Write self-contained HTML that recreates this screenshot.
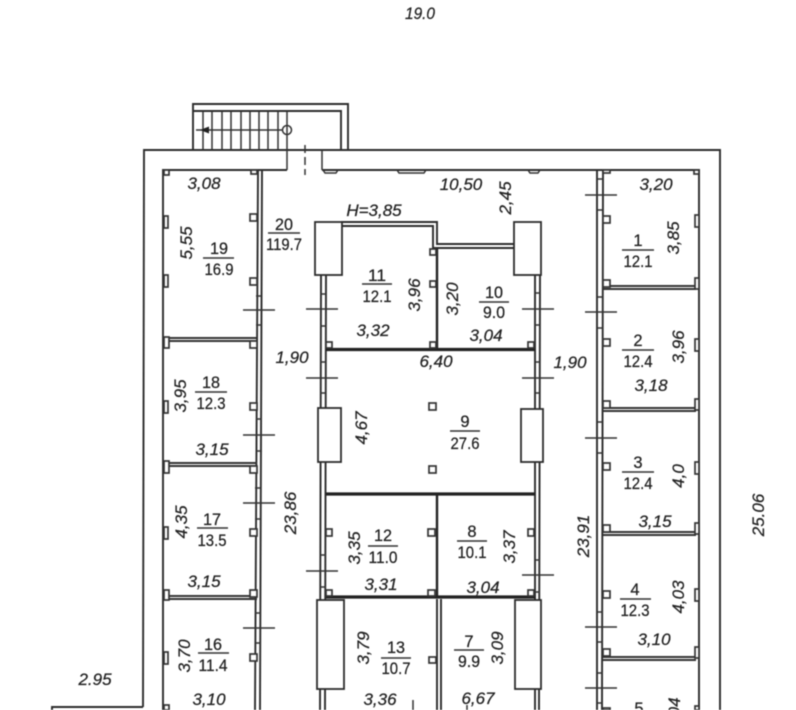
<!DOCTYPE html>
<html>
<head>
<meta charset="utf-8">
<style>
html,body{margin:0;padding:0;background:#fff;width:796px;height:710px;overflow:hidden}
svg{display:block;filter:blur(.4px)}
text{font-family:"Liberation Sans",sans-serif;fill:#222;text-anchor:middle;stroke:#222;stroke-width:.25}
.d{font-size:17px;font-style:italic}
.n{font-size:16.5px}
.l{stroke:#2c2c2c;stroke-width:1.9;fill:none}
.t{stroke:#222;stroke-width:3.2;fill:none}
.b{stroke:#333;stroke-width:2;fill:none}
.m{stroke:#333;stroke-width:1.5;fill:none}
.s{stroke:#333;stroke-width:1.7;fill:#fff}
.w{stroke:#2c2c2c;stroke-width:1.8;fill:#fff}
</style>
</head>
<body>
<svg width="796" height="710" viewBox="0 0 796 710" xmlns="http://www.w3.org/2000/svg">
<!-- outer walls -->
<path class="l" d="M143 707L144 150H720V710"/>
<path class="l" d="M52 710V707H143"/>
<path class="l" d="M163 710V170H287M322 170H699V710"/>
<path class="m" d="M287 150V170M322 150V170M323 170l2 3h11l2-3M397 170l2 3h25l2-3M528 170l2 3h8l2-3"/>
<path class="m" stroke-dasharray="8 4" d="M305 145V175"/>
<!-- stairs -->
<path class="l" d="M193 150V104H348V150M193 111H341V150"/>
<path class="m" d="M203 111V150M212 111V150M222 111V150M231 111V150M241 111V150M250 111V150M259 111V150M268 111V150M278 111V150M287 111V150"/>
<path class="m" d="M196 130H283"/>
<path d="M200 130l9-3.500v7z" fill="#222"/>
<circle cx="287" cy="130" r="4.500" class="m"/>
<!-- left column -->
<path class="l" d="M258 170L255 710M262 170L260 710"/>
<path class="b" d="M168 338H257M168 341H257M168 463H257M168 466H257M168 596H257M168 599H257"/>
<!-- right column -->
<path class="l" d="M597 170V710M603 170L602 710"/>
<path class="b" d="M603 286H696M603 289H696M603 408H696M603 411H696M603 532H696M603 535H696M603 657H696M603 660H696"/>
<!-- centre walls -->
<path class="l" d="M321 275L320 710M326 275L325 710M535 275V710M540 275L539 710M437 599V710M441 599V710"/>
<path class="l" d="M341 222H437V244H515M341 226H433V248H515"/>
<path class="t" d="M326 349.500H535M326 494H535M326 597H535"/>
<path class="t" style="stroke-width:2.400" d="M437 248V349M437 494V597"/>
<path class="m" d="M413 700V710M467 705V710"/>
<!-- door marks in walls -->
<path class="m" d="M256 296h6M256 325h6M256 419h6M256 451h6M255 488h6M255 519h6M255 613h6M255 643h6M320 294h6M320 326h6M320 362h6M320 393h6M320 555h6M320 587h6M535 293h5M535 325h5M535 362h5M535 393h5M535 560h5M535 592h5M597 179h6M597 210h6M597 297h6M597 328h6M597 422h6M597 453h6M597 612h6M597 642h6M597 673h6M597 703h6"/>
<!-- pillars -->
<rect class="w" x="315" y="222" width="27" height="53"/>
<rect class="w" x="514" y="222" width="27" height="53"/>
<rect class="w" x="318" y="408" width="23" height="54"/>
<rect class="w" x="521" y="409" width="22" height="53"/>
<rect class="w" x="317" y="600" width="27" height="89"/>
<rect class="w" x="515" y="600" width="26" height="89"/>
<!-- door ticks -->
<path class="m" d="M243 310H275M243 435H275M243 503H275M243 628H275M306 309H338M306 378H338M306 571H338M522 309H554M522 378H554M522 575H554M585 195H617M585 312H617M585 438H617M585 627H617M585 688H617"/>
<!-- small squares -->
<g class="s">
<rect x="164" y="170" width="5" height="5"/><rect x="251" y="170" width="6" height="4"/>
<rect x="164" y="216" width="4" height="12"/><rect x="250" y="214" width="7" height="7"/>
<rect x="164" y="275" width="4" height="12"/><rect x="250" y="278" width="7" height="7"/>
<rect x="164" y="337" width="5" height="11"/><rect x="250" y="341" width="7" height="7"/>
<rect x="164" y="401" width="4" height="12"/><rect x="250" y="403" width="7" height="7"/>
<rect x="164" y="461" width="5" height="12"/><rect x="250" y="466" width="7" height="7"/>
<rect x="164" y="527" width="4" height="12"/><rect x="250" y="529" width="7" height="7"/>
<rect x="164" y="590" width="5" height="10"/><rect x="250" y="590" width="7" height="7"/>
<rect x="164" y="652" width="4" height="12"/><rect x="250" y="654" width="7" height="7"/>
<rect x="164" y="705" width="5" height="5"/>
<rect x="603" y="170" width="7" height="3"/><rect x="694" y="170" width="5" height="4"/>
<rect x="603" y="216" width="7" height="7"/><rect x="695" y="215" width="4" height="12"/>
<rect x="603" y="280" width="7" height="7"/><rect x="695" y="278" width="4" height="11"/>
<rect x="603" y="339" width="7" height="7"/><rect x="695" y="339" width="4" height="12"/>
<rect x="603" y="401" width="7" height="7"/><rect x="695" y="399" width="4" height="11"/>
<rect x="603" y="463" width="7" height="7"/><rect x="695" y="462" width="4" height="12"/>
<rect x="603" y="525" width="7" height="7"/><rect x="695" y="523" width="4" height="11"/>
<rect x="603" y="591" width="7" height="7"/><rect x="695" y="589" width="4" height="12"/>
<rect x="603" y="649" width="7" height="7"/><rect x="695" y="647" width="4" height="11"/>
<rect x="603" y="708" width="7" height="2"/><rect x="695" y="706" width="4" height="4"/>
<rect x="326" y="342" width="6" height="6"/><rect x="430" y="249" width="6" height="6"/>
<rect x="430" y="281" width="6" height="6"/><rect x="430" y="342" width="6" height="6"/>
<rect x="528" y="342" width="6" height="6"/>
<rect x="429" y="403" width="7" height="7"/><rect x="429" y="466" width="7" height="7"/>
<rect x="326" y="529" width="6" height="7"/><rect x="326" y="590" width="6" height="6"/>
<rect x="428" y="529" width="7" height="7"/><rect x="428" y="590" width="7" height="6"/>
<rect x="528" y="529" width="6" height="7"/><rect x="528" y="590" width="6" height="6"/>
<rect x="429" y="657" width="7" height="6"/>
</g>
<!-- dimensions -->
<g class="d">
<text x="420" y="19" textLength="30" lengthAdjust="spacingAndGlyphs">19.0</text>
<text x="95" y="685">2.95</text>
<text transform="translate(764,515) rotate(-90)">25.06</text>
<text x="204" y="189">3,08</text>
<text x="461" y="190">10,50</text>
<text x="656" y="190">3,20</text>
<text transform="translate(511,198) rotate(-90)">2,45</text>
<text x="374" y="216">H=3,85</text>
<text transform="translate(192,243) rotate(-90)">5,55</text>
<text transform="translate(679,238) rotate(-90)">3,85</text>
<text transform="translate(420,295) rotate(-90)">3,96</text>
<text transform="translate(458,299) rotate(-90)">3,20</text>
<text transform="translate(684,347) rotate(-90)">3,96</text>
<text x="373" y="336">3,32</text>
<text x="486" y="341">3,04</text>
<text x="292" y="363">1,90</text>
<text x="436" y="367">6,40</text>
<text x="570" y="368">1,90</text>
<text x="651" y="391">3,18</text>
<text transform="translate(186,396) rotate(-90)">3,95</text>
<text transform="translate(367,428) rotate(-90)">4,67</text>
<text x="212" y="455">3,15</text>
<text transform="translate(684,476) rotate(-90)">4,0</text>
<text transform="translate(187,522) rotate(-90)">4,35</text>
<text transform="translate(360,548) rotate(-90)">3,35</text>
<text transform="translate(515,547) rotate(-90)">3,37</text>
<text transform="translate(296,513) rotate(-90)">23,86</text>
<text transform="translate(589,536) rotate(-90)">23,91</text>
<text x="655" y="527">3,15</text>
<text x="204" y="587">3,15</text>
<text x="381" y="590">3,31</text>
<text x="483" y="593">3,04</text>
<text transform="translate(684,597) rotate(-90)">4,03</text>
<text x="654" y="645">3,10</text>
<text transform="translate(369,648) rotate(-90)">3,79</text>
<text transform="translate(503,648) rotate(-90)">3,09</text>
<text transform="translate(190,656) rotate(-90)">3,70</text>
<text x="380" y="705">3,36</text>
<text x="478" y="704">6,67</text>
<text x="209" y="705">3,10</text>
<text transform="translate(680,714) rotate(-90)">3,04</text>
</g>
<!-- room labels -->
<g class="n">
<text x="284" y="230" textLength="18" lengthAdjust="spacingAndGlyphs">20</text><text x="284" y="250" textLength="36" lengthAdjust="spacingAndGlyphs">119.7</text>
<text x="219" y="254" textLength="18" lengthAdjust="spacingAndGlyphs">19</text><text x="219" y="275" textLength="29" lengthAdjust="spacingAndGlyphs">16.9</text>
<text x="211" y="388" textLength="18" lengthAdjust="spacingAndGlyphs">18</text><text x="211" y="409" textLength="29" lengthAdjust="spacingAndGlyphs">12.3</text>
<text x="212" y="525" textLength="18" lengthAdjust="spacingAndGlyphs">17</text><text x="212" y="546" textLength="29" lengthAdjust="spacingAndGlyphs">13.5</text>
<text x="213" y="650" textLength="18" lengthAdjust="spacingAndGlyphs">16</text><text x="213" y="671" textLength="29" lengthAdjust="spacingAndGlyphs">11.4</text>
<text x="638" y="246">1</text><text x="638" y="267" textLength="29" lengthAdjust="spacingAndGlyphs">12.1</text>
<text x="638" y="346">2</text><text x="638" y="367" textLength="29" lengthAdjust="spacingAndGlyphs">12.4</text>
<text x="638" y="468">3</text><text x="638" y="489" textLength="29" lengthAdjust="spacingAndGlyphs">12.4</text>
<text x="635" y="595">4</text><text x="635" y="616" textLength="29" lengthAdjust="spacingAndGlyphs">12.3</text>
<text x="639" y="714">5</text>
<text x="377" y="281" textLength="18" lengthAdjust="spacingAndGlyphs">11</text><text x="377" y="302" textLength="29" lengthAdjust="spacingAndGlyphs">12.1</text>
<text x="494" y="298" textLength="18" lengthAdjust="spacingAndGlyphs">10</text><text x="494" y="318" textLength="22" lengthAdjust="spacingAndGlyphs">9.0</text>
<text x="465" y="427">9</text><text x="465" y="449" textLength="29" lengthAdjust="spacingAndGlyphs">27.6</text>
<text x="383" y="541" textLength="18" lengthAdjust="spacingAndGlyphs">12</text><text x="383" y="563" textLength="29" lengthAdjust="spacingAndGlyphs">11.0</text>
<text x="472" y="537">8</text><text x="472" y="558" textLength="29" lengthAdjust="spacingAndGlyphs">10.1</text>
<text x="396" y="653" textLength="18" lengthAdjust="spacingAndGlyphs">13</text><text x="396" y="674" textLength="29" lengthAdjust="spacingAndGlyphs">10.7</text>
<text x="469" y="647">7</text><text x="469" y="667" textLength="22" lengthAdjust="spacingAndGlyphs">9.9</text>
</g>
<path class="m" d="M268 233H300M203 258H234M195 392H227M197 528H228M198 653H229M622 250H654M622 350H654M622 472H654M620 599H651M362 284H392M479 302H509M450 431H480M368 546H398M457 541H487M381 658H411M454 650H484"/>
</svg>
</body>
</html>
